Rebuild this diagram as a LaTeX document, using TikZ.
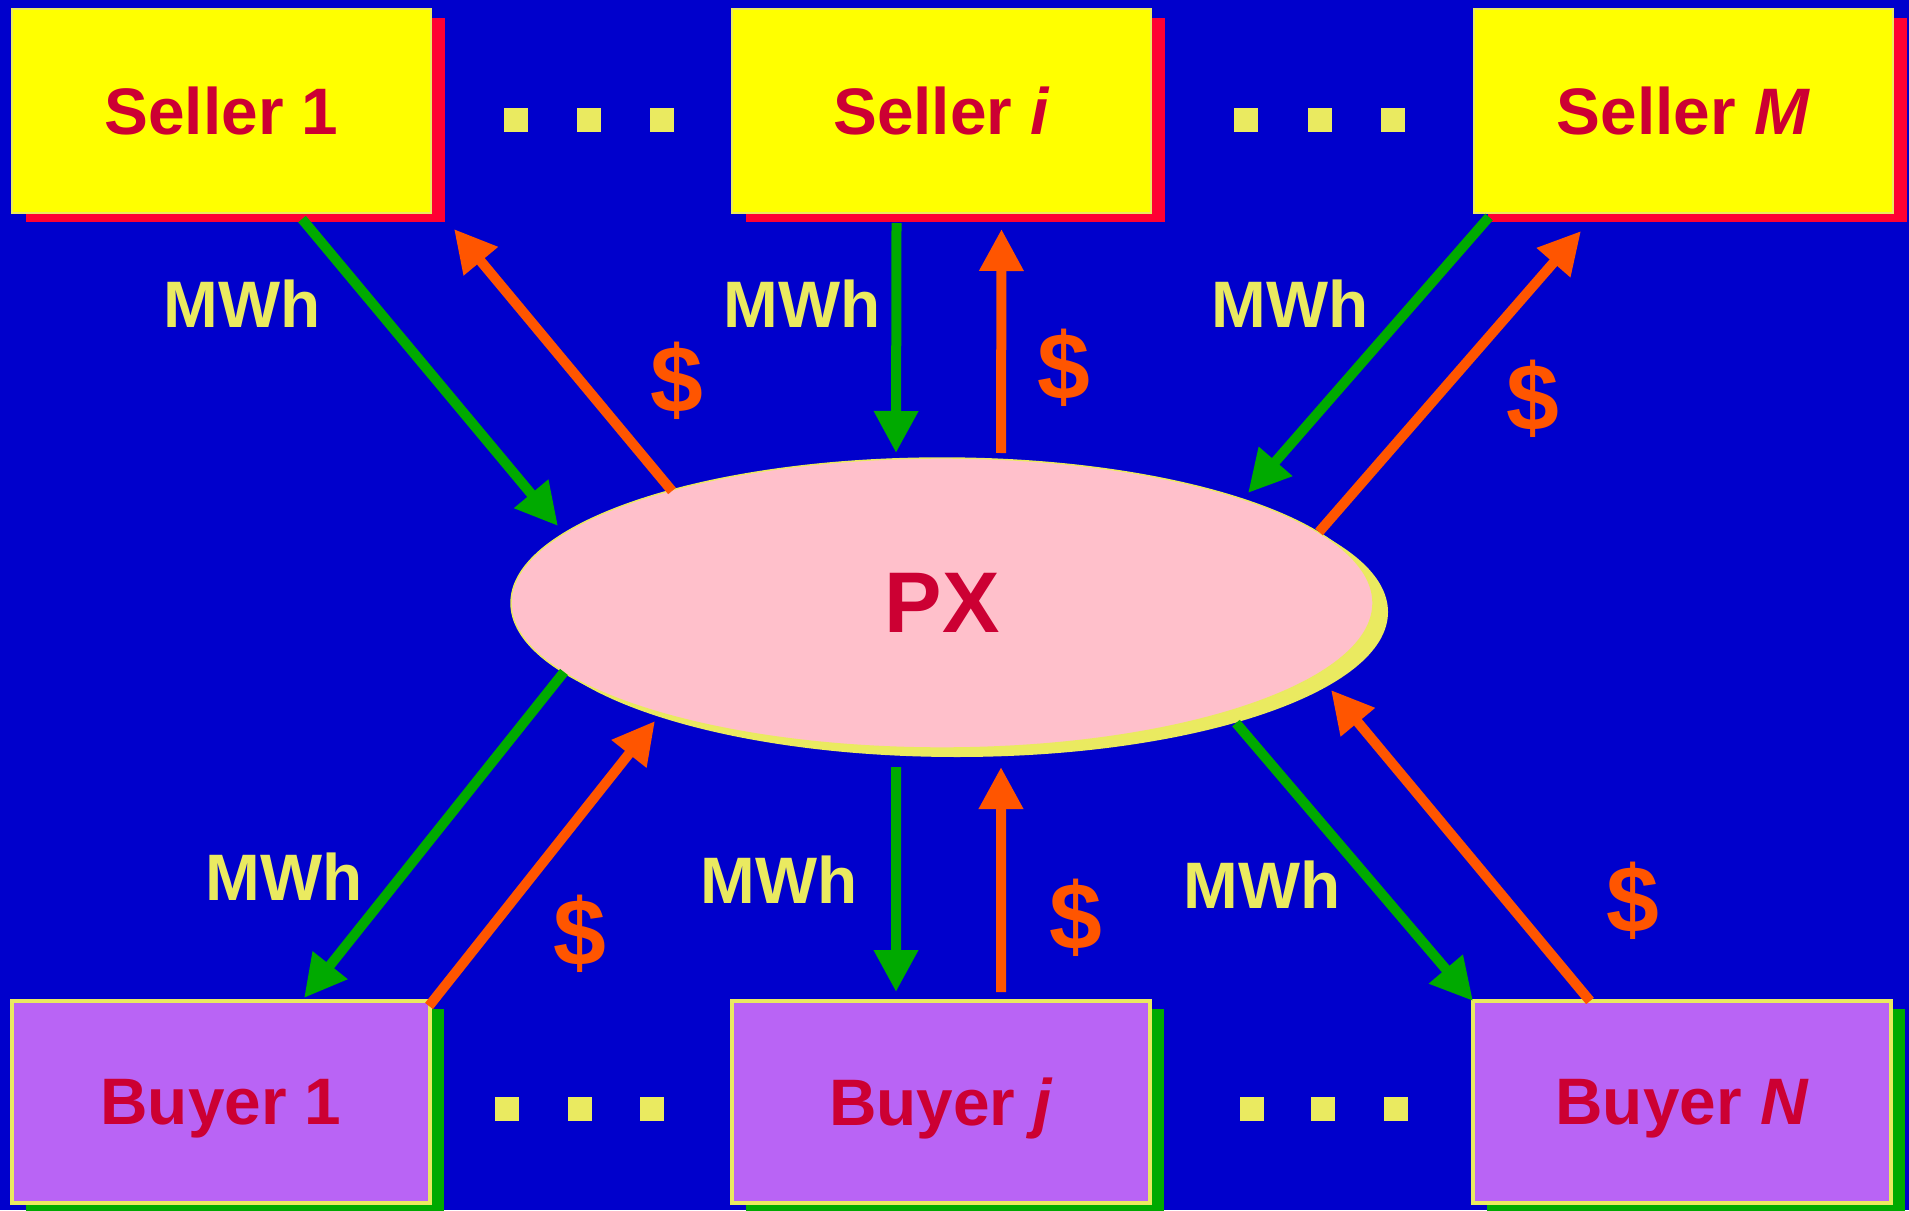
\documentclass[tikz,border=0pt]{standalone}
\usepackage{fontspec}
\setmainfont{Liberation Sans}
\usetikzlibrary{arrows.meta,positioning,shadows,shapes.geometric}
\definecolor{pxblue}{HTML}{0000CC}
\definecolor{pxyellow}{HTML}{FFFF00}
\definecolor{pxred}{HTML}{FF0033}
\definecolor{pxcrimson}{HTML}{CC0033}
\definecolor{pxpurple}{HTML}{B964F5}
\definecolor{pxgreen}{HTML}{00AA00}
\definecolor{pxorange}{HTML}{FF5500}
\definecolor{pxpale}{HTML}{EAEA60}
\definecolor{pxpink}{HTML}{FFC0CB}
\tikzset{
  seller/.style={rectangle, draw=pxpale, line width=0.4pt, fill=pxyellow, minimum width=4.19cm, minimum height=2.04cm, outer sep=0pt, text=pxcrimson, font=\fontsize{18.7}{22}\selectfont\bfseries, general shadow={shadow xshift=0.14cm, shadow yshift=-0.09cm, fill=pxred}},
  buyer/.style={rectangle, draw=pxpale, line width=0.9pt, fill=pxpurple, minimum width=4.18cm, minimum height=2.02cm, outer sep=0pt, text depth=0pt, text=pxcrimson, font=\fontsize{18.7}{22}\selectfont\bfseries, general shadow={shadow xshift=0.14cm, shadow yshift=-0.08cm, fill=pxgreen}},
  market/.style={ellipse, draw=pxpale, line width=0.4pt, fill=pxpink, minimum width=8.62cm, minimum height=2.90cm, inner sep=0pt, outer sep=0pt, text=pxcrimson, font=\fontsize{24.5}{28}\selectfont\bfseries, general shadow={shadow xshift=0.15cm, shadow yshift=-0.09cm, fill=pxpale}},
  mwh/.style={draw=pxgreen, line width=0.1cm, -{Triangle[length=0.42cm, width=0.42cm]}},
  pay/.style={draw=pxorange, line width=0.1cm, -{Triangle[length=0.42cm, width=0.42cm]}},
  qtylabel/.style={text=pxpale, inner sep=0pt, font=\fontsize{18.7}{22}\selectfont\bfseries},
  paylabel/.style={text=pxorange, inner sep=0pt, font=\fontsize{27}{30}\selectfont\bfseries},
}
\begin{document}
\begin{tikzpicture}
  \useasboundingbox (0,0) rectangle (19.09,-12.10);
  \fill[pxblue] (0,0) rectangle (19.09,-12.10);
  % traders and exchange
  \node[seller] (s1) at (2.215,-1.11) {Seller 1};
  \node[seller,right=3.01cm of s1] (si) {Seller \textit{i}};
  \node[seller,right=3.23cm of si] (sm) {Seller \textit{M}};
  \node[buyer] (b1) at (2.21,-11.02) {Buyer 1};
  \node[buyer,right=3.02cm of b1] (bj) {Buyer \textit{j}};
  \node[buyer,right=3.23cm of bj] (bn) {Buyer \textit{N}};
  \node[market] (px) at (9.42,-6.03) {PX};
  % dots between the boxes
  \foreach \x in {5.16,5.89,6.62,12.46,13.20,13.93}
    \fill[pxpale] (\x,-1.20) ++(-0.12,-0.12) rectangle ++(0.24,0.24);
  \foreach \x in {5.07,5.80,6.52,12.52,13.23,13.96}
    \fill[pxpale] (\x,-11.09) ++(-0.12,-0.12) rectangle ++(0.24,0.24);
  % energy and money flows
  \draw[mwh] ([shift={(0.805,-0.06)}]s1.south) -- ([shift={(-3.84,0.77)}]px.center);
  \draw[pay] ([shift={(-2.70,1.12)}]px.center) -- ([shift={(2.325,-0.16)}]s1.south);
  \draw[mwh] ([shift={(-0.45,-0.10)}]si.south) -- ([shift={(-0.46,1.50)}]px.center);
  \draw[pay] ([shift={(0.59,1.50)}]px.center) -- ([shift={(0.60,-0.16)}]si.south);
  \draw[mwh] ([shift={(-1.945,-0.04)}]sm.south) -- ([shift={(3.06,1.10)}]px.center);
  \draw[pay] ([shift={(3.77,0.71)}]px.center) -- ([shift={(-1.025,-0.18)}]sm.south);
  \draw[mwh] ([shift={(-3.78,-0.69)}]px.center) -- ([shift={(0.83,0.03)}]b1.north);
  \draw[pay] ([shift={(2.08,-0.05)}]b1.north) -- ([shift={(-2.87,-1.18)}]px.center);
  \draw[mwh] ([shift={(-0.46,-1.64)}]px.center) -- ([shift={(-0.45,0.09)}]bj.north);
  \draw[pay] ([shift={(0.60,0.09)}]bj.north) -- ([shift={(0.59,-1.64)}]px.center);
  \draw[mwh] ([shift={(2.94,-1.20)}]px.center) -- ([shift={(-2.09,0)}]bn.north);
  \draw[pay] ([shift={(-0.92,0)}]bn.north) -- ([shift={(3.89,-0.87)}]px.center);
  % flow labels
  \node[qtylabel] (q1) at (2.42,-3.04) {MWh};
  \node[qtylabel] (q2) at (8.02,-3.04) {MWh};
  \node[qtylabel] (q3) at (12.90,-3.04) {MWh};
  \node[qtylabel] (q4) at (2.84,-8.77) {MWh};
  \node[qtylabel] (q5) at (7.79,-8.80) {MWh};
  \node[qtylabel] (q6) at (12.62,-8.85) {MWh};
  \node[paylabel] (d1) at (6.77,-3.81) {\$};
  \node[paylabel] (d2) at (10.64,-3.68) {\$};
  \node[paylabel] (d3) at (15.33,-3.99) {\$};
  \node[paylabel] (d4) at (5.80,-9.34) {\$};
  \node[paylabel] (d5) at (10.76,-9.18) {\$};
  \node[paylabel] (d6) at (16.33,-9.01) {\$};
\end{tikzpicture}
\end{document}
